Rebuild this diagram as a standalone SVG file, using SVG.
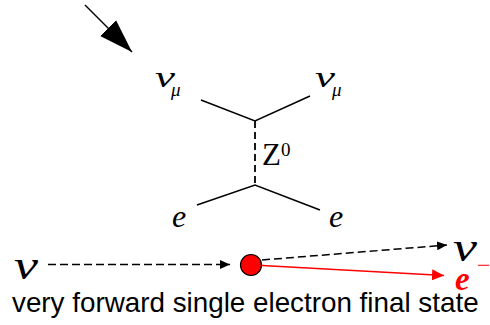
<svg xmlns="http://www.w3.org/2000/svg" width="490" height="325" viewBox="0 0 490 325">
<defs>
<style>
.ln{stroke:#000;stroke-width:1.5;fill:none}
.dash{stroke:#000;stroke-width:1.5;fill:none;stroke-dasharray:8,4}
.vdash{stroke:#000;stroke-width:1.8;fill:none;stroke-dasharray:7,4}
.sym{font-family:"Liberation Serif","Times New Roman",serif;font-style:italic;fill:#000}
.rm{font-family:"Liberation Serif","Times New Roman",serif;fill:#000}
.cap{font-family:"Liberation Sans",Arial,sans-serif;font-size:27.8px;fill:#000}
</style>
<marker id="big" markerUnits="userSpaceOnUse" markerWidth="34" markerHeight="24" viewBox="0 0 32 22" refX="31.8" refY="10.6" orient="auto">
<path d="M0,0 L31.8,10.6 L0,21.2 Z" fill="#000"/>
</marker>
<marker id="ah" markerUnits="userSpaceOnUse" markerWidth="11" markerHeight="9" viewBox="0 0 11 9" refX="10" refY="4.5" orient="auto">
<path d="M0,0 L10,4.5 L0,9 Z" fill="#000"/>
</marker>
<marker id="ahr" markerUnits="userSpaceOnUse" markerWidth="13" markerHeight="11" viewBox="0 0 13 11" refX="12" refY="5.5" orient="auto">
<path d="M0,0 L12,5.5 L0,11 Z" fill="#f00"/>
</marker>
</defs>
<rect width="490" height="325" fill="#fff"/>
<g id="connectors">
<line class="ln" x1="85" y1="5" x2="132" y2="52" marker-end="url(#big)"/>
<path class="ln" d="M201,100 L255,121 L310,96"/>
<line class="vdash" x1="255" y1="121" x2="255" y2="185"/>
<path class="ln" d="M197,205 L255,185 L320,210"/>
<line class="dash" x1="48" y1="264.5" x2="230" y2="264.5" marker-end="url(#ah)"/>
<line class="dash" x1="262" y1="260" x2="447" y2="245" marker-end="url(#ah)"/>
<line x1="262" y1="265.5" x2="444" y2="275.5" stroke="#f00" stroke-width="1.6" marker-end="url(#ahr)"/>
</g>
<g id="numu-in"><text class="sym" x="155" y="87" font-size="30" textLength="20" lengthAdjust="spacingAndGlyphs">ν</text><text class="sym" x="171" y="96" font-size="19">μ</text></g>
<g id="numu-out"><text class="sym" x="315" y="87" font-size="30" textLength="20" lengthAdjust="spacingAndGlyphs">ν</text><text class="sym" x="332" y="96" font-size="19">μ</text></g>
<g id="z0"><text class="rm" x="262" y="165" font-size="31">Z</text><text class="rm" x="281" y="156" font-size="19">0</text></g>
<g id="e-in"><text class="sym" x="172" y="227" font-size="32">e</text></g>
<g id="e-out"><text class="sym" x="329" y="227" font-size="32">e</text></g>
<g id="nu-in"><text class="sym" x="14" y="279" font-size="42" textLength="24" lengthAdjust="spacingAndGlyphs">ν</text></g>
<g id="vertex"><circle cx="251" cy="265" r="10.5" fill="#f00" stroke="#000" stroke-width="1.2"/></g>
<g id="nu-out"><text class="sym" x="453" y="261" font-size="42" textLength="24" lengthAdjust="spacingAndGlyphs">ν</text></g>
<g id="e-minus"><text class="sym" x="455" y="290" font-size="33" font-weight="bold" style="fill:#f00">e</text><text class="rm" x="477" y="273" font-size="24" style="fill:#f00">−</text></g>
<g id="caption"><text class="cap" x="12" y="312">very forward single electron final state</text></g>
</svg>
